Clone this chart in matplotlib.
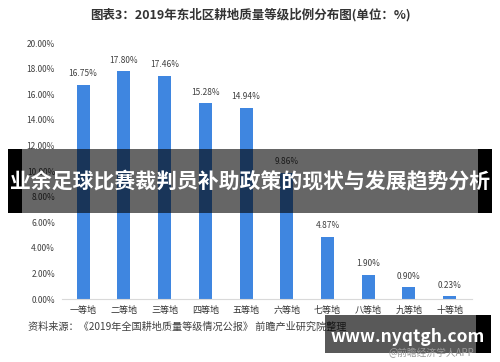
import matplotlib.pyplot as plt
from matplotlib.patches import Rectangle

plt.rcParams['font.family'] = ['Noto Sans CJK SC', 'DejaVu Sans']

grades = ['一等地', '二等地', '三等地', '四等地', '五等地',
          '六等地', '七等地', '八等地', '九等地', '十等地']
shares = [16.75, 17.80, 17.46, 15.28, 14.94, 9.86, 4.87, 1.90, 0.90, 0.23]
yticks = [0, 2, 4, 6, 8, 10, 12, 14, 16, 18, 20]

title = '图表3：2019年东北区耕地质量等级比例分布图(单位：%)'
source = '资料来源：《2019年全国耕地质量等级情况公报》 前瞻产业研究院整理'
banner = '业余足球比赛裁判员补助政策的现状与发展趋势分析'

fig = plt.figure(figsize=(5, 3.62), dpi=100)
ax = fig.add_axes([0.124, 0.174, 0.82, 0.707])

x = range(len(grades))
ax.bar(x, shares, width=0.32, color='#3f86e0')
for i, v in zip(x, shares):
    ax.text(i, v + 0.5, '%.2f%%' % v, ha='center', va='bottom',
            fontsize=6, color='#404040')

ax.set_ylim(0, 20)
ax.set_xlim(-0.52, 9.55)
ax.set_yticks(yticks)
ax.set_yticklabels(['%.2f%%' % t for t in yticks], fontsize=6, color='#404040')
ax.set_xticks(list(x))
ax.set_xticklabels(grades, fontsize=6.5, color='#333333')
ax.tick_params(length=0, pad=5)
for s in ['top', 'right', 'left']:
    ax.spines[s].set_visible(False)
ax.spines['bottom'].set_color('#d9d9d9')

fig.text(0.5, 0.958, title, ha='center', va='center', fontsize=9,
         fontweight='bold', color='#333333')
fig.text(0.056, 0.097, source, ha='left', va='center', fontsize=7.3,
         color='#404040')

# overlay banner: opaque black ends, translucent middle
def box(x0, y0, w, h, **kw):
    fig.patches.append(Rectangle((x0, y0), w, h, transform=fig.transFigure,
                                 lw=0, **kw))

box(0.016, 0.412, 0.028, 0.177, color='black', zorder=5)
box(0.956, 0.412, 0.028, 0.177, color='black', zorder=5)
box(0.044, 0.412, 0.912, 0.177, color='black', alpha=0.6, zorder=5)
fig.text(0.5, 0.497, banner, ha='center', va='center', fontsize=15,
         fontweight='bold', color='white', zorder=7)

# watermark box
box(0.952, 0.025, 0.03, 0.105, color='black', zorder=5)
box(0.65, 0.025, 0.302, 0.105, color='black', alpha=0.65, zorder=5)
fig.text(0.815, 0.069, 'www.nyqtgh.com', ha='center', va='center', fontsize=12.5,
         fontweight='bold', color='white', zorder=7)
fig.text(0.862, 0.026, '@前瞻经济学人APP', ha='center', va='center', fontsize=7,
         color='#999999', zorder=7)

fig.savefig('out.png', dpi=100)
